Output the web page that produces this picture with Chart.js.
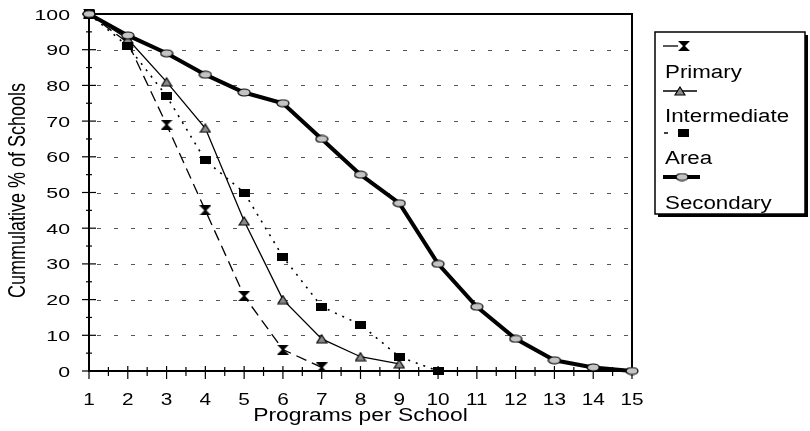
<!DOCTYPE html>
<html>
<head>
<meta charset="utf-8">
<script src="https://cdn.jsdelivr.net/npm/chart.js@4.4.1/dist/chart.umd.min.js"></script>
<style>
  html, body { margin: 0; padding: 0; background: #fff; }
</style>
</head>
<body>
<canvas id="chart" width="810" height="431"></canvas>
<script>
// Cumulative share of schools offering at least N programs
const programs = ['1', '2', '3', '4', '5', '6', '7', '8', '9', '10', '11', '12', '13', '14', '15'];
const primary = [100, 92, 69, 45, 21, 6, 1];
const intermediate = [100, 93, 81, 68, 42, 20, 9, 4, 2];
const area = [100, 91, 77, 59, 50, 32, 18, 13, 4, 0];
const secondary = [100, 94, 89, 83, 78, 75, 65, 55, 47, 30, 18, 9, 3, 1, 0];
const yTicks = [0, 10, 20, 30, 40, 50, 60, 70, 80, 90, 100];
const seriesNames = ['Primary', 'Intermediate', 'Area', 'Secondary'];

const FONT = '"Liberation Sans", Arial, Helvetica, sans-serif';

// small canvases used as point markers
function makeMarker(w, h, draw) {
    const c = document.createElement('canvas');
    c.width = w;
    c.height = h;
    draw(c.getContext('2d'), w, h);
    return c;
}

const bowtie = makeMarker(12, 10, (ctx, w, h) => {
    ctx.fillStyle = '#000';
    ctx.beginPath();
    ctx.moveTo(0, 0);
    ctx.lineTo(w, 0);
    ctx.lineTo(w / 2 + 1, h / 2);
    ctx.lineTo(w, h);
    ctx.lineTo(0, h);
    ctx.lineTo(w / 2 - 1, h / 2);
    ctx.closePath();
    ctx.fill();
});

const triangle = makeMarker(12, 10, (ctx, w, h) => {
    ctx.fillStyle = '#8a8a8a';
    ctx.strokeStyle = '#000';
    ctx.lineWidth = 1.2;
    ctx.beginPath();
    ctx.moveTo(w / 2, 1);
    ctx.lineTo(w - 1, h - 1);
    ctx.lineTo(1, h - 1);
    ctx.closePath();
    ctx.fill();
    ctx.stroke();
});

const square = makeMarker(11, 8, (ctx, w, h) => {
    ctx.fillStyle = '#000';
    ctx.fillRect(0, 0, w, h);
});

const ellipse = makeMarker(14, 9, (ctx, w, h) => {
    ctx.fillStyle = '#c4c4c4';
    ctx.strokeStyle = '#000';
    ctx.lineWidth = 1.2;
    ctx.beginPath();
    ctx.ellipse(w / 2, h / 2, w / 2 - 1, h / 2 - 1, 0, 0, Math.PI * 2);
    ctx.fill();
    ctx.stroke();
});

const markers = [bowtie, triangle, square, ellipse];

// draw stretched text (the original figure is wider than tall)
function stretchedText(ctx, text, x, y, sx, align, size) {
    ctx.save();
    ctx.translate(x, y);
    ctx.scale(sx, 1);
    ctx.font = size + 'px ' + FONT;
    ctx.textAlign = align;
    ctx.textBaseline = 'alphabetic';
    ctx.fillStyle = '#000';
    ctx.fillText(text, 0, 0);
    ctx.restore();
}

const framePlugin = {
    id: 'frame',
    beforeDatasetsDraw(chart) {
        const ctx = chart.ctx;
        const a = chart.chartArea;
        const x = chart.scales.x;
        const y = chart.scales.y;
        ctx.save();

        // dashed horizontal grid
        ctx.strokeStyle = '#555';
        ctx.lineWidth = 1;
        ctx.setLineDash([4, 13]);
        yTicks.forEach(v => {
            if (v === 0 || v === 100) return;
            const py = Math.round(y.getPixelForValue(v)) + 0.5;
            ctx.beginPath();
            ctx.moveTo(a.left + 8, py);
            ctx.lineTo(a.right, py);
            ctx.stroke();
        });
        ctx.setLineDash([]);

        // frame: axes, top and right border
        ctx.strokeStyle = '#000';
        ctx.lineWidth = 2;
        ctx.beginPath();
        ctx.moveTo(a.left, a.top);
        ctx.lineTo(a.right, a.top);
        ctx.lineTo(a.right, a.bottom);
        ctx.moveTo(a.left, a.top);
        ctx.lineTo(a.left, a.bottom);
        ctx.lineTo(a.right, a.bottom);
        ctx.stroke();

        // y ticks (major every 10, minor every 5), crossing the axis
        ctx.lineWidth = 1.2;
        for (let v = 0; v <= 100; v += 5) {
            const py = y.getPixelForValue(v);
            const len = v % 10 === 0 ? 7 : 3;
            ctx.beginPath();
            ctx.moveTo(a.left - len, py);
            ctx.lineTo(a.left + len, py);
            ctx.stroke();
        }

        // x ticks at every half step
        for (let i = 0; i < programs.length; i++) {
            const px = x.getPixelForValue(i);
            ctx.beginPath();
            ctx.moveTo(px, a.bottom - 5);
            ctx.lineTo(px, a.bottom + 8);
            ctx.stroke();
            if (i < programs.length - 1) {
                const hx = (px + x.getPixelForValue(i + 1)) / 2;
                ctx.beginPath();
                ctx.moveTo(hx, a.bottom - 4);
                ctx.lineTo(hx, a.bottom + 5);
                ctx.stroke();
            }
        }
        ctx.restore();
    },
    afterDraw(chart) {
        const ctx = chart.ctx;
        const a = chart.chartArea;
        const x = chart.scales.x;
        const y = chart.scales.y;

        // tick labels
        yTicks.forEach(v => {
            stretchedText(ctx, String(v), 70, y.getPixelForValue(v) + 5.5, 1.42, 'right', 15);
        });
        programs.forEach((p, i) => {
            stretchedText(ctx, p, x.getPixelForValue(i), 405, 1.3, 'center', 16);
        });

        // axis titles
        stretchedText(ctx, 'Programs per School', (a.left + a.right) / 2, 421, 1.27, 'center', 18);
        ctx.save();
        ctx.translate(25, (a.top + a.bottom) / 2 - 2);
        ctx.rotate(-Math.PI / 2);
        ctx.scale(1, 1.3);
        ctx.font = '18px ' + FONT;
        ctx.textAlign = 'center';
        ctx.textBaseline = 'alphabetic';
        ctx.fillStyle = '#000';
        ctx.fillText('Cummulative % of Schools', 0, 0);
        ctx.restore();

        // legend box with drop shadow
        ctx.save();
        ctx.fillStyle = '#000';
        ctx.fillRect(658, 35, 150, 182);
        ctx.fillStyle = '#fff';
        ctx.fillRect(655, 32, 150, 182);
        ctx.strokeStyle = '#000';
        ctx.lineWidth = 1.5;
        ctx.strokeRect(655, 32, 150, 182);

        const sampleY = [46, 91, 133, 177];
        const labelY = [78, 122, 164, 209];
        const lineEnds = [[663, 678], [663, 697], [664, 668], [663, 700]];
        const markerX = [684, 680, 683, 682];
        const widths = [1.3, 1.3, 1.5, 4];
        seriesNames.forEach((name, i) => {
            ctx.strokeStyle = '#000';
            ctx.lineWidth = widths[i];
            ctx.beginPath();
            ctx.moveTo(lineEnds[i][0], sampleY[i]);
            ctx.lineTo(lineEnds[i][1], sampleY[i]);
            ctx.stroke();
            const m = markers[i];
            ctx.drawImage(m, markerX[i] - m.width / 2, sampleY[i] - m.height / 2);
            stretchedText(ctx, name, 665, labelY[i], 1.24, 'left', 18);
        });
        ctx.restore();
    }
};

const seriesValues = [primary, intermediate, area, secondary];
const dashes = [[11, 6], [], [2, 6], []];
const lineWidths = [1.3, 1.3, 1.6, 4];

const datasets = seriesValues.map((values, i) => ({
    label: seriesNames[i],
    data: values,
    borderColor: '#000',
    backgroundColor: '#000',
    borderWidth: lineWidths[i],
    borderDash: dashes[i],
    pointStyle: markers[i],
    pointRadius: 5,
    tension: 0,
    fill: false,
    clip: 12,
    order: 3 - i
}));

new Chart(document.getElementById('chart'), {
    type: 'line',
    data: { labels: programs, datasets: datasets },
    options: {
        responsive: false,
        animation: false,
        events: [],
        devicePixelRatio: 1,
        layout: { padding: { left: 0, right: 178, top: 14, bottom: 0 } },
        plugins: {
            legend: { display: false },
            tooltip: { enabled: false }
        },
        scales: {
            x: {
                type: 'category',
                offset: false,
                grid: { display: false },
                border: { display: false },
                ticks: { display: false },
                afterFit(s) { s.height = 60; }
            },
            y: {
                min: 0,
                max: 100,
                grid: { display: false },
                border: { display: false },
                ticks: { display: false, stepSize: 10 },
                afterFit(s) { s.width = 89; }
            }
        }
    },
    plugins: [framePlugin]
});
</script>
</body>
</html>
